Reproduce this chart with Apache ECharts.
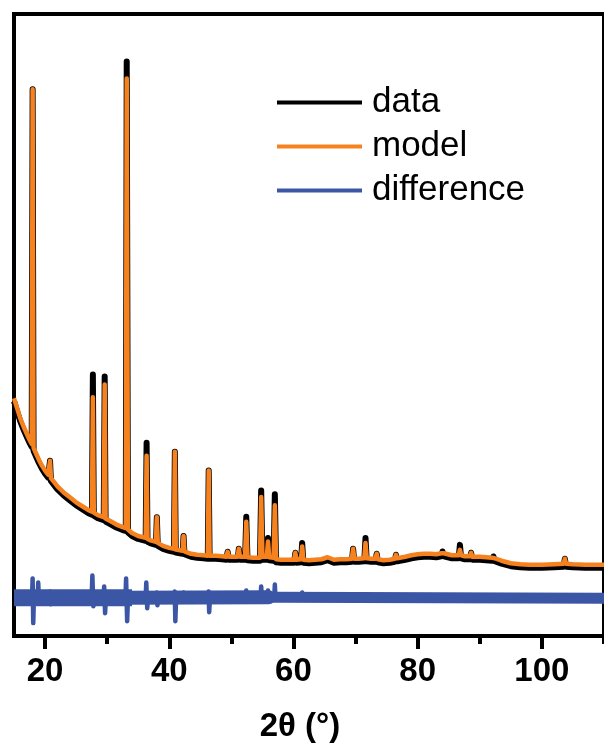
<!DOCTYPE html>
<html>
<head>
<meta charset="utf-8">
<script src="https://cdn.jsdelivr.net/npm/echarts@6/dist/echarts.min.js"></script>
<style>html,body{margin:0;padding:0;background:#fff}#c{width:604px;height:748px}</style>
</head>
<body>
<div id="c"></div>
<script>
// 2-theta grid shared by data and model
const twoTheta = [15.0,15.5,16.0,16.5,17.0,17.5,17.85,18.0,18.15,18.5,19.0,19.5,20.0,20.5,20.65,20.8,20.95,21.5,22.0,23.0,24.0,25.0,26.0,27.0,27.55,27.7,27.85,28.5,29.45,29.6,29.75,30.5,31.5,32.5,33.0,33.15,33.35,34.0,35.0,36.2,36.35,36.5,37.0,37.85,38.0,38.15,39.0,40.0,40.75,40.9,41.05,42.15,42.3,42.45,43.5,44.5,45.5,46.2,46.35,46.5,47.5,48.5,49.2,49.4,49.6,50.5,51.0,51.2,51.4,52.2,52.4,52.6,53.5,54.6,54.8,55.0,55.7,55.9,56.1,56.8,57.0,57.2,58.0,59.0,60.1,60.3,60.5,61.2,61.4,61.6,62.5,63.5,64.5,65.5,66.5,67.5,68.5,69.4,69.6,69.8,70.5,71.4,71.6,71.8,72.5,73.2,73.4,73.6,74.5,75.5,76.3,76.5,76.7,78.0,79.0,80.0,81.0,82.0,83.0,83.8,84.0,84.2,85.5,86.6,86.8,87.0,87.6,88.4,88.6,88.8,90.0,91.0,92.0,92.2,92.4,93.5,95.0,96.5,98.0,100.0,102.0,103.5,103.7,103.9,105.0,107.0,110.0];
const model = [2400,2300,2200,2120,2050,1980,1940,5520,1900,1850,1780,1720,1670,1630,1615,1770,1595,1550,1510,1450,1400,1350,1310,1270,1255,2410,1245,1220,1200,2540,1185,1160,1125,1100,1090,5630,1075,1040,1010,990,1820,980,965,950,1200,940,910,890,880,1860,872,860,1010,855,830,820,815,810,1670,810,810,805,800,850,800,800,800,880,800,800,1153,795,790,790,1403,800,800,953,795,790,1320,775,770,770,770,840,770,775,903,770,765,770,775,795,770,775,775,780,880,780,780,785,940,785,780,780,830,775,765,770,780,820,785,800,815,825,830,830,825,835,853,835,815,815,870,815,805,805,840,800,800,795,790,803,785,760,735,725,720,720,725,730,780,730,725,720,720];
const data = [2370,2270,2170,2090,2020,1950,1910,5520,1870,1820,1750,1690,1640,1600,1585,1770,1565,1520,1480,1420,1370,1320,1280,1240,1225,2640,1215,1190,1170,2620,1155,1130,1095,1070,1060,5800,1045,1010,980,960,1950,950,935,920,1200,910,880,860,850,1860,842,830,1010,825,800,790,785,780,1670,780,780,775,770,850,770,770,770,880,770,770,1203,765,760,760,1470,770,770,990,765,760,1430,745,740,740,740,840,740,745,940,740,735,740,745,765,740,745,745,750,880,750,750,755,990,755,750,750,830,745,735,740,750,820,755,770,785,795,800,800,795,805,853,805,785,785,920,785,775,775,840,770,770,765,760,803,755,730,705,695,690,690,695,700,780,700,695,690,690];
// difference curve (offset below the pattern): noise band (wider at low angle) and its spikes
const diffBandLowTheta = [15.0,34.0];
const diffBandLow = [385,386];
const diffBandMidTheta = [33.0,56.0];
const diffBandMid = [386,390];
const diffBandHighTheta = [55.0,57.0,57.1,110.0];
const diffBandHigh = [390,390,380,380];
const diffTheta = [15.0,17.9,18.0,18.1,18.2,18.8,18.9,19.0,20.7,20.8,20.9,21.0,27.5,27.62,27.78,27.9,29.4,29.52,29.67,29.8,32.95,33.05,33.22,33.35,36.2,36.3,36.45,36.6,37.9,38.0,38.1,38.2,40.8,40.88,40.98,41.1,42.2,42.3,42.4,46.25,46.33,46.43,46.55,52.3,52.4,52.5,54.7,54.8,54.9,55.8,55.9,56.0,56.9,57.0,57.1,61.3,61.4,61.5,110.0];
const diff = [385,385,580,130,385,385,540,385,385,450,320,385,390,610,300,390,390,500,230,390,390,580,150,390,390,540,280,390,390,440,310,385,385,450,150,385,385,440,385,385,450,240,385,390,460,390,390,500,390,390,460,390,390,520,380,380,440,380,380];
const xTickValues = [20,40,60,80,100];
const xMinorTickValues = [30,50,70,90,110];
const seriesNames = ['data','model','difference'];

const pair = (xs, ys) => xs.map((x, i) => [x, ys[i]]);
const chart = echarts.init(document.getElementById('c'), null, {renderer: 'canvas'});
const FONT = 'Liberation Sans';
const BLUE = '#3C56A6';
const diffLine = (xs, ys, w, cap) => ({name: 'difference', type: 'line', data: pair(xs, ys), showSymbol: false, symbol: 'none', z: 2,
  color: BLUE, lineStyle: {color: BLUE, width: w, cap: cap, join: 'round'}});
chart.setOption({
  animation: false,
  backgroundColor: '#fff',
  grid: {left: 14, top: 14, right: -8, bottom: 106, show: true, borderColor: '#000', borderWidth: 4, backgroundColor: 'transparent'},
  legend: {
    orient: 'vertical', left: 272, top: 80, itemWidth: 85, itemHeight: 4, itemGap: 9, icon: 'rect',
    data: seriesNames,
    textStyle: {fontFamily: FONT, fontSize: 35, color: '#000', lineHeight: 35, padding: [0, 0, 0, 5]}
  },
  xAxis: [{
    type: 'value', min: 15, max: 110,
    axisLine: {show: true, lineStyle: {color: '#000', width: 4}},
    axisTick: {show: true, customValues: xTickValues, length: 13, lineStyle: {color: '#000', width: 4}},
    axisLabel: {customValues: xTickValues, fontFamily: FONT, fontWeight: 'bold', fontSize: 33, color: '#000', margin: 19},
    splitLine: {show: false},
    name: '2θ (°)', nameLocation: 'middle', nameGap: 74,
    nameTextStyle: {fontFamily: FONT, fontWeight: 'bold', fontSize: 33, color: '#000', padding: [0, 18, 0, 0]}
  }, {
    type: 'value', min: 15, max: 110, position: 'bottom',
    axisLine: {show: false},
    axisTick: {show: true, customValues: xMinorTickValues, length: 8, lineStyle: {color: '#000', width: 4}},
    axisLabel: {show: false}, splitLine: {show: false}
  }],
  yAxis: {
    type: 'value', min: 0, max: 6280,
    axisLine: {show: false}, axisTick: {show: false}, axisLabel: {show: false}, splitLine: {show: false}
  },
  series: [
    {name: 'data', type: 'line', data: pair(twoTheta, data), showSymbol: false, symbol: 'none', z: 2,
     color: '#000', lineStyle: {color: '#000', width: 6, cap: 'butt', join: 'round'}},
    {name: 'model', type: 'line', data: pair(twoTheta, model), showSymbol: false, symbol: 'none', z: 3,
     color: '#F5821F', lineStyle: {color: '#F5821F', width: 4.5, cap: 'butt', join: 'round'}},
    diffLine(diffBandLowTheta, diffBandLow, 17, 'butt'),
    diffLine(diffBandMidTheta, diffBandMid, 14, 'round'),
    diffLine(diffBandHighTheta, diffBandHigh, 11, 'round'),
    diffLine(diffTheta, diff, 4.5, 'butt')
  ]
});
</script>
</body>
</html>
